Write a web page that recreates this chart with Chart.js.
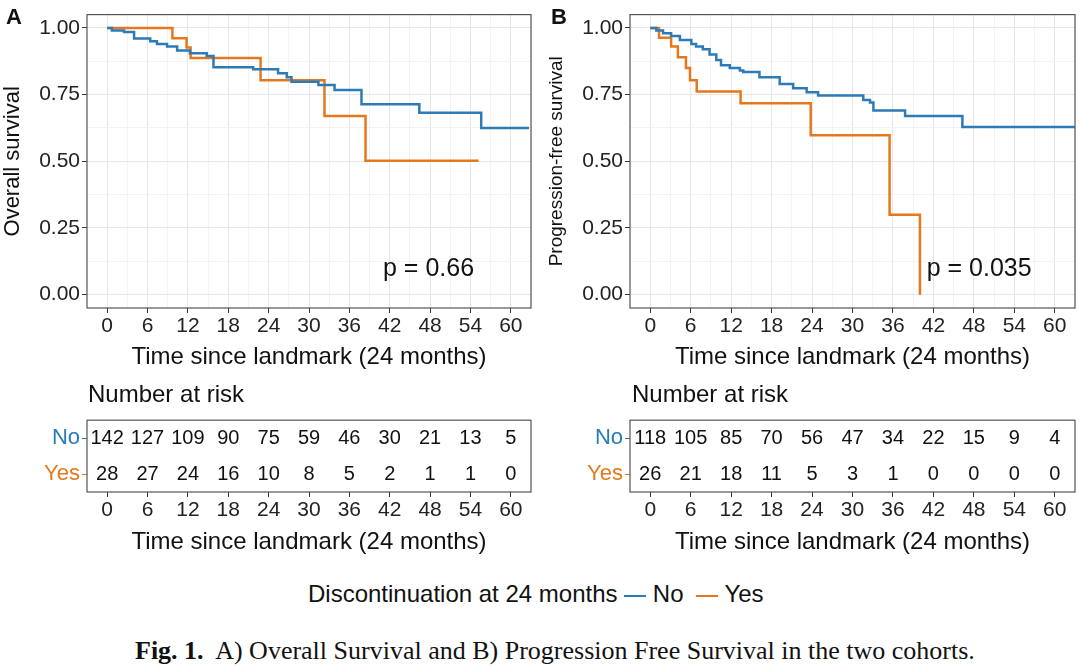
<!DOCTYPE html>
<html>
<head>
<meta charset="utf-8">
<script src="https://cdn.jsdelivr.net/npm/chart.js@4"></script>
<style>
  body { margin: 0; background: #fff; width: 1080px; height: 668px; position: relative; overflow: hidden; font-family: "Liberation Sans", Arial, sans-serif; }
  canvas { position: absolute; }
  .txt { position: absolute; color: #111; white-space: nowrap; }
</style>
</head>
<body>
<canvas id="kmA" style="left:0;top:0"></canvas>
<canvas id="kmB" style="left:545px;top:0"></canvas>
<canvas id="riskA" style="left:0;top:405px"></canvas>
<canvas id="riskB" style="left:545px;top:405px"></canvas>
<div class="txt" style="left:6px;top:4px;font-size:22px;font-weight:bold">A</div>
<div class="txt" style="left:551px;top:4px;font-size:22px;font-weight:bold">B</div>
<div class="txt" style="left:88px;top:380px;font-size:24px">Number at risk</div>
<div class="txt" style="left:632px;top:380px;font-size:24px">Number at risk</div>
<div class="txt" style="left:308px;top:580px;font-size:24px">Discontinuation at 24 months
  <span style="display:inline-block;width:22px;height:2px;background:#2c7bb6;vertical-align:middle"></span> No
  <span style="display:inline-block;width:22px;height:2px;background:#e5781c;vertical-align:middle;margin-left:6px"></span> Yes</div>
<div class="txt" style="left:135px;top:636px;font-size:26px;font-family:'Liberation Serif','DejaVu Serif',serif"><b>Fig. 1.</b>&nbsp; A) Overall Survival and B) Progression Free Survival in the two cohorts.</div>
<script>
const BLUE = '#2c7bb6';
const ORANGE = '#e5781c';

// Panel A: overall survival
const timesNoA = [0, 0.7, 2.5, 4, 6.4, 7.4, 8.9, 10.4, 12.3, 14.8, 15.8, 21.7, 25.4, 26.7, 27.4, 31.4, 33.8, 37.8, 46.4, 55.6, 62.7];
const survNoA  = [1, 0.99, 0.985, 0.96, 0.95, 0.94, 0.93, 0.915, 0.905, 0.895, 0.853, 0.845, 0.83, 0.815, 0.798, 0.786, 0.767, 0.714, 0.682, 0.625, 0.625];
const timesYesA = [0, 9.7, 11.8, 12.4, 22.8, 32.3, 38.4, 55.2];
const survYesA  = [1, 0.961, 0.927, 0.887, 0.804, 0.670, 0.502, 0.502];

// Panel B: progression-free survival
const timesNoB = [0, 0.9, 1.9, 3.1, 4.4, 6.1, 6.8, 7.8, 8.8, 9.8, 10.5, 11.8, 13.3, 13.8, 16.2, 19.2, 21.2, 23.2, 24.9, 31.6, 32.6, 33.1, 37.8, 46.3, 63];
const survNoB  = [1, 0.99, 0.98, 0.97, 0.955, 0.94, 0.93, 0.92, 0.9, 0.88, 0.86, 0.85, 0.84, 0.835, 0.815, 0.79, 0.774, 0.759, 0.747, 0.73, 0.72, 0.69, 0.67, 0.629, 0.629];
const timesYesB = [0, 1.3, 3.1, 4.1, 5.3, 5.9, 6.9, 13.4, 23.8, 35.5, 40];
const survYesB  = [1, 0.963, 0.93, 0.89, 0.85, 0.804, 0.762, 0.718, 0.598, 0.30, 0.0];

// Number at risk
const riskTimes = [0, 6, 12, 18, 24, 30, 36, 42, 48, 54, 60];
const riskNoA  = [142, 127, 109, 90, 75, 59, 46, 30, 21, 13, 5];
const riskYesA = [28, 27, 24, 16, 10, 8, 5, 2, 1, 1, 0];
const riskNoB  = [118, 105, 85, 70, 56, 47, 34, 22, 15, 9, 4];
const riskYesB = [26, 21, 18, 11, 5, 3, 1, 0, 0, 0, 0];

const yTicks = [0, 0.25, 0.5, 0.75, 1];
const FONT = "'Liberation Sans', Arial, sans-serif";

const frame = {
  id: 'frame',
  afterDraw(chart) {
    const a = chart.chartArea, ctx = chart.ctx;
    ctx.save();
    ctx.strokeStyle = '#555';
    ctx.lineWidth = 1.2;
    ctx.strokeRect(a.left, a.top, a.right - a.left, a.bottom - a.top);
    ctx.restore();
  }
};

const pts = (t, s) => t.map((x, i) => ({x: x, y: s[i]}));

const xAxis = (h) => ({
  type: 'linear', min: -3, max: 63,
  afterBuildTicks: s => { s.ticks = []; for (let v = 0; v <= 63; v += 3) s.ticks.push({value: v}); },
  ticks: { color: '#222', font: {size: 21, family: FONT}, padding: 1, autoSkip: false, maxRotation: 0,
           callback: v => (v % 6 === 0 ? v : '') },
  grid: { color: c => (c.tick && c.tick.value % 6 === 0 ? '#e6e6e6' : '#f3f3f3'),
          tickColor: c => (c.tick && c.tick.value % 6 === 0 ? '#333' : 'rgba(0,0,0,0)'), tickLength: 5 },
  border: { display: false },
  title: { display: true, text: 'Time since landmark (24 months)', color: '#111', font: {size: 24, family: FONT}, padding: 0 },
  afterFit: s => { s.height = h; }
});

function kmChart(id, w, yW, padR, title, titleSize, noT, noS, yesT, yesS, pText) {
  const cv = document.getElementById(id);
  cv.width = w; cv.height = 372;
  cv.style.width = w + 'px'; cv.style.height = '372px';
  const pLabel = {
    id: 'plabel',
    afterDatasetsDraw(chart) {
      const ctx = chart.ctx;
      ctx.save();
      ctx.font = '25px ' + FONT;
      ctx.fillStyle = '#111';
      ctx.textAlign = 'left';
      ctx.textBaseline = 'middle';
      ctx.fillText(pText, chart.scales.x.getPixelForValue(pText.length > 8 ? 41 : 41), chart.scales.y.getPixelForValue(0.095));
      ctx.restore();
    }
  };
  new Chart(cv, {
    type: 'line',
    data: { datasets: [
      { label: 'No', data: pts(noT, noS), borderColor: BLUE, borderWidth: 2.5, stepped: 'before', pointRadius: 0 },
      { label: 'Yes', data: pts(yesT, yesS), borderColor: ORANGE, borderWidth: 2.5, stepped: 'before', pointRadius: 0 }
    ]},
    options: {
      responsive: false, animation: false,
      layout: { padding: { top: 8, right: padR, left: 0, bottom: 0 } },
      plugins: { legend: { display: false }, tooltip: { enabled: false } },
      scales: {
        x: xAxis(64),
        y: {
          min: -0.05, max: 1.05,
          afterBuildTicks: s => { s.ticks = yTicks.map(v => ({value: v})).concat([0.125, 0.375, 0.625, 0.875].map(v => ({value: v}))); },
          ticks: { color: '#222', font: {size: 21, family: FONT}, padding: 2,
                   callback: v => (yTicks.includes(v) ? v.toFixed(2) : '') },
          grid: { color: c => (c.tick && yTicks.includes(c.tick.value) ? '#e6e6e6' : '#f3f3f3'),
                  tickColor: c => (c.tick && yTicks.includes(c.tick.value) ? '#333' : 'rgba(0,0,0,0)'), tickLength: 5 },
          border: { display: false },
          title: { display: true, text: title, color: '#111', font: {size: titleSize, family: FONT}, padding: 0 },
          afterFit: s => { s.width = yW; }
        }
      }
    },
    plugins: [frame, pLabel]
  });
}

function riskChart(id, w, yW, padR, noR, yesR) {
  const cv = document.getElementById(id);
  cv.width = w; cv.height = 152;
  cv.style.width = w + 'px'; cv.style.height = '152px';
  const nums = {
    id: 'nums',
    afterDatasetsDraw(chart) {
      const ctx = chart.ctx, xs = chart.scales.x, ys = chart.scales.y;
      ctx.save();
      ctx.font = '20px ' + FONT;
      ctx.fillStyle = '#111';
      ctx.textAlign = 'center';
      ctx.textBaseline = 'middle';
      riskTimes.forEach((t, i) => {
        ctx.fillText(noR[i], xs.getPixelForValue(t), ys.getPixelForValue(0));
        ctx.fillText(yesR[i], xs.getPixelForValue(t), ys.getPixelForValue(1));
      });
      ctx.restore();
    }
  };
  new Chart(cv, {
    type: 'line',
    data: { labels: ['No', 'Yes'], datasets: [] },
    options: {
      responsive: false, animation: false,
      layout: { padding: { top: 10, right: padR, left: 0, bottom: 0 } },
      plugins: { legend: { display: false }, tooltip: { enabled: false } },
      scales: {
        x: Object.assign(xAxis(65), { grid: { display: true, drawOnChartArea: false, tickColor: c => (c.tick && c.tick.value % 6 === 0 ? '#333' : 'rgba(0,0,0,0)'), tickLength: 5 } }),
        y: {
          type: 'category', offset: true,
          ticks: { color: c => (c.index === 0 ? BLUE : ORANGE), font: {size: 22, family: FONT}, padding: 2 },
          grid: { drawOnChartArea: false, tickColor: c => (c.index === 0 ? BLUE : ORANGE), tickLength: 5 },
          border: { display: false },
          afterFit: s => { s.width = yW; }
        }
      }
    },
    plugins: [frame, nums]
  });
}

kmChart('kmA', 540, 87, 9, 'Overall survival', 22, timesNoA, survNoA, timesYesA, survYesA, 'p = 0.66');
kmChart('kmB', 535, 85, 5, 'Progression-free survival', 19, timesNoB, survNoB, timesYesB, survYesB, 'p = 0.035');
riskChart('riskA', 540, 87, 9, riskNoA, riskYesA);
riskChart('riskB', 535, 85, 5, riskNoB, riskYesB);
</script>
</body>
</html>
